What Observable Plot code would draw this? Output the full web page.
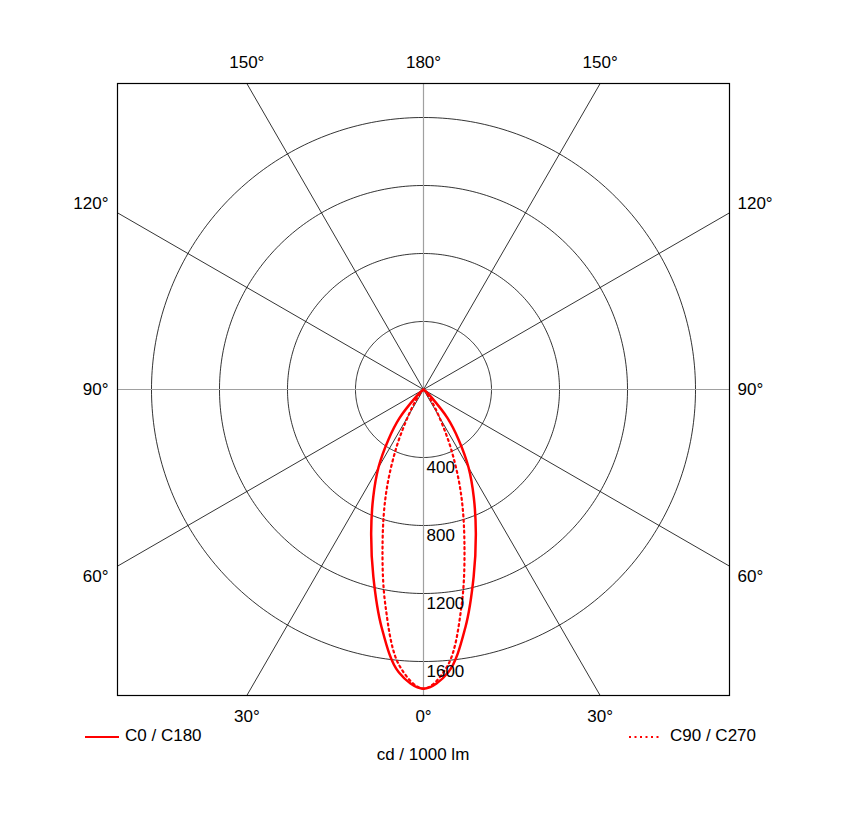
<!DOCTYPE html>
<html>
<head>
<meta charset="utf-8">
<script src="https://cdn.jsdelivr.net/npm/d3@7"></script>
<script src="https://cdn.jsdelivr.net/npm/@observablehq/plot@0.6"></script>
<style>
  html, body { margin: 0; padding: 0; background: #fff; }
  body { width: 846px; height: 820px; overflow: hidden; font-family: "Liberation Sans", Arial, sans-serif; }
  #chart svg { display: block; }
  #legend { position: relative; width: 846px; height: 80px; font-size: 17px; color: #000; }
  #legend .item { position: absolute; line-height: 20px; white-space: nowrap; }
  #legend svg.sw { position: absolute; }
</style>
</head>
<body>
<div id="chart"></div>
<div id="legend"></div>
<script>
// ---- data ----
const gammaDeg = [0, 5, 10, 15, 20, 25, 30, 35, 40, 45, 50, 55, 60, 65, 70, 75, 80, 85, 90];
const c0c180   = [1760, 1670, 1420, 1140, 900, 700, 530, 360, 220, 70, 20, 0, 0, 0, 0, 0, 0, 0, 0];
const c90c270  = [1760, 1630, 1290, 930, 640, 380, 180, 80, 30, 10, 0, 0, 0, 0, 0, 0, 0, 0, 0];
const ringValues = [400, 800, 1200, 1600];
const ringLabels = ["400", "800", "1200", "1600"];
const gridAngles = [0, 30, 60, 90, 120, 150, 180, 210, 240, 270, 300, 330];
const angleLabels = [0, 30, 60, 90, 120, 150, 180];
const seriesNames = ["C0 / C180", "C90 / C270"];
const unitLabel = "cd / 1000 lm";
const R = 1800; // half-extent of the square frame, cd

// ---- derived geometry ----
const rad = d => d * Math.PI / 180;
function halfPlanes(vals, name) {
  const pts = [];
  for (let i = vals.length - 1; i >= 0; i--) {
    const g = rad(gammaDeg[i]);
    pts.push({series: name, x: -vals[i] * Math.sin(g), y: -vals[i] * Math.cos(g)});
  }
  for (let i = 1; i < vals.length; i++) {
    const g = rad(gammaDeg[i]);
    pts.push({series: name, x: vals[i] * Math.sin(g), y: -vals[i] * Math.cos(g)});
  }
  return pts;
}
const curveA = halfPlanes(c0c180, seriesNames[0]);
const curveB = halfPlanes(c90c270, seriesNames[1]);

const ringPts = [];
for (const r of ringValues) {
  for (let t = 0; t <= 360; t += 1) {
    ringPts.push({ring: r, x: r * Math.cos(rad(t)), y: r * Math.sin(rad(t))});
  }
}

function edgePoint(a, side) {
  const s = Math.sin(rad(a)) * side, c = Math.cos(rad(a));
  const t = R / Math.max(Math.abs(s), Math.abs(c));
  return {x: s * t, y: -c * t};
}
const spokes = gridAngles.map(a => {
  const p = edgePoint(a, 1);
  return {a, x2: p.x, y2: p.y, axis: a % 90 === 0};
});

const labelPts = [];
for (const a of angleLabels) {
  const sides = (a === 0 || a === 180) ? [1] : [-1, 1];
  for (const side of sides) {
    const p = edgePoint(a, side);
    let kind;
    const s = Math.abs(Math.sin(rad(a))), c = Math.abs(Math.cos(rad(a)));
    if (c >= s) kind = Math.cos(rad(a)) > 0 ? "bottom" : "top";
    else {
      const v = a > 90 ? "up" : (a < 90 ? "down" : "mid");
      kind = (side < 0 ? "left-" : "right-") + v;
    }
    labelPts.push({x: p.x, y: p.y, text: a + "°", kind});
  }
}
const labelCfg = {
  "bottom":     {textAnchor: "middle", dx: 0,  dy: 21},
  "top":        {textAnchor: "middle", dx: 0,  dy: -21},
  "left-up":    {textAnchor: "end",    dx: -9, dy: -9},
  "left-mid":   {textAnchor: "end",    dx: -9, dy: 0},
  "left-down":  {textAnchor: "end",    dx: -9, dy: 10},
  "right-up":   {textAnchor: "start",  dx: 8,  dy: -9},
  "right-mid":  {textAnchor: "start",  dx: 8,  dy: 0},
  "right-down": {textAnchor: "start",  dx: 8,  dy: 10}
};
const labelMarks = Object.entries(labelCfg).map(([k, cfg]) =>
  Plot.text(labelPts.filter(d => d.kind === k), {x: "x", y: "y", text: "text", fontSize: 17, fill: "black", ...cfg})
);

const ringText = ringValues.map((r, i) => ({x: 0, y: -r, text: ringLabels[i]}));

const chart = Plot.plot({
  width: 846,
  height: 740,
  marginLeft: 117,
  marginRight: 117,
  marginTop: 83,
  marginBottom: 45,
  x: {domain: [-R, R], axis: null},
  y: {domain: [-R, R], axis: null},
  style: {fontFamily: "'Liberation Sans', Arial, sans-serif", background: "white", overflow: "visible"},
  marks: [
    Plot.line(ringPts, {x: "x", y: "y", z: "ring", stroke: "black", strokeWidth: 0.8}),
    Plot.link(spokes.filter(d => !d.axis), {x1: 0, y1: 0, x2: "x2", y2: "y2", stroke: "black", strokeWidth: 0.8}),
    Plot.link(spokes.filter(d => d.axis), {x1: 0, y1: 0, x2: "x2", y2: "y2", stroke: "#a0a0a0", strokeWidth: 1.2}),
    Plot.frame({stroke: "black", strokeWidth: 1.2}),
    Plot.line(curveB, {x: "x", y: "y", stroke: "#ff0000", strokeWidth: 2.2, strokeDasharray: "2,3.5", curve: "catmull-rom"}),
    Plot.line(curveA, {x: "x", y: "y", stroke: "#ff0000", strokeWidth: 2.5, curve: "catmull-rom"}),
    Plot.text(ringText, {x: "x", y: "y", text: "text", textAnchor: "start", dx: 3, dy: 10, fontSize: 17, fill: "black"}),
    ...labelMarks
  ]
});
document.getElementById("chart").appendChild(chart);

// ---- legend below the SVG (container starts at y = 740) ----
const leg = document.getElementById("legend");
leg.innerHTML = `
  <svg class="sw" style="left:85px;top:-5px" width="34" height="4"><line x1="0" y1="2" x2="34" y2="2" stroke="#ff0000" stroke-width="2"/></svg>
  <div class="item" style="left:125px;top:-14px">${seriesNames[0]}</div>
  <svg class="sw" style="left:629px;top:-5px" width="31" height="4"><line x1="0" y1="2" x2="31" y2="2" stroke="#ff0000" stroke-width="2" stroke-dasharray="2,3.5"/></svg>
  <div class="item" style="left:670px;top:-14px">${seriesNames[1]}</div>
  <div class="item" style="left:0;width:846px;text-align:center;top:5px">${unitLabel}</div>
`;
</script>
</body>
</html>
